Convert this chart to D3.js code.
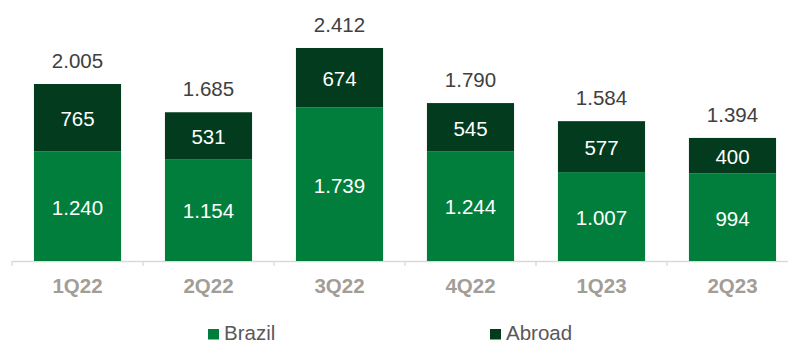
<!DOCTYPE html>
<html><head><meta charset="utf-8">
<script src="https://cdn.jsdelivr.net/npm/d3@7"></script>
<style>body{margin:0;background:#fff}svg{display:block}text{font-family:Arial,"Liberation Sans",sans-serif}</style>
</head><body>
<svg id="c" width="788" height="342"></svg>
<script>
const categories = ["1Q22","2Q22","3Q22","4Q22","1Q23","2Q23"];
const brazil = [1240,1154,1739,1244,1007,994];
const abroad = [765,531,674,545,577,400];
const totals = [2005,1685,2412,1790,1584,1394];
const seriesNames = ["Brazil","Abroad"];
const colors = ["#017E3B","#023B1E"];

const fmt = v => { const s = String(v); return s.length > 3 ? s.slice(0, s.length-3) + "." + s.slice(-3) : s; };

const svg = d3.select("#c");
const x = d3.scaleBand().domain(categories).range([12, 12 + 131*6]).paddingInner(0.335).paddingOuter(0.1675);
const y = d3.scaleLinear().domain([0, 2005]).range([261, 84]);

const rows = categories.map((c,i)=>({cat:c, Brazil:brazil[i], Abroad:abroad[i]}));
const stack = d3.stack().keys(seriesNames)(rows);

// axis
const axisG = svg.append("g").attr("transform","translate(0,261)");
const axis = d3.axisBottom(d3.scaleBand().domain(categories).range([12, 12+131*6])).tickSize(0).tickFormat("");
axisG.call(axis);
axisG.select(".domain").attr("stroke","#D9D9D9").attr("stroke-width",1.3);
const edges = d3.range(0, 7).map(i => 12 + 131*i);
axisG.selectAll("line.edge").data(edges).join("line").attr("class","edge")
  .attr("x1",d=>d).attr("x2",d=>d).attr("y1",0).attr("y2",5)
  .attr("stroke","#D9D9D9").attr("stroke-width",1.3);

stack.forEach((layer, li) => {
  svg.append("g").selectAll("rect").data(layer).join("rect")
    .attr("x", d => x(d.data.cat)).attr("width", x.bandwidth())
    .attr("y", d => y(d[1])).attr("height", d => y(d[0]) - y(d[1]))
    .attr("fill", colors[li]);
  svg.append("g").selectAll("text").data(layer).join("text")
    .attr("x", d => x(d.data.cat) + x.bandwidth()/2)
    .attr("y", d => (y(d[0]) + y(d[1]))/2 + 1)
    .attr("dy","0.36em").attr("text-anchor","middle")
    .attr("fill","#fff").attr("font-size",20.5)
    .text(d => fmt(d[1]-d[0]));
});

svg.append("g").selectAll("text").data(categories).join("text")
  .attr("x", c => x(c) + x.bandwidth()/2)
  .attr("y", (c,i) => y(totals[i]) - 16)
  .attr("text-anchor","middle")
  .attr("fill","#404040").attr("font-size",20.5)
  .text((c,i) => fmt(totals[i]));

svg.append("g").selectAll("text").data(categories).join("text")
  .attr("x", c => x(c) + x.bandwidth()/2)
  .attr("y", 293).attr("text-anchor","middle")
  .attr("fill","#A29D97").attr("font-size",20.5).attr("font-weight","bold")
  .text(c => c);

// legend
const legX = [208, 490];
const leg = svg.append("g").selectAll("g").data(seriesNames).join("g")
  .attr("transform",(d,i)=>`translate(${legX[i]},0)`);
leg.append("rect").attr("x",0).attr("y",329).attr("width",11).attr("height",10.5).attr("fill",(d,i)=>colors[i]);
leg.append("text").attr("x",16).attr("y",339.5)
  .attr("fill","#595959").attr("font-size",20.5).text(d=>d);
</script>
</body></html>
